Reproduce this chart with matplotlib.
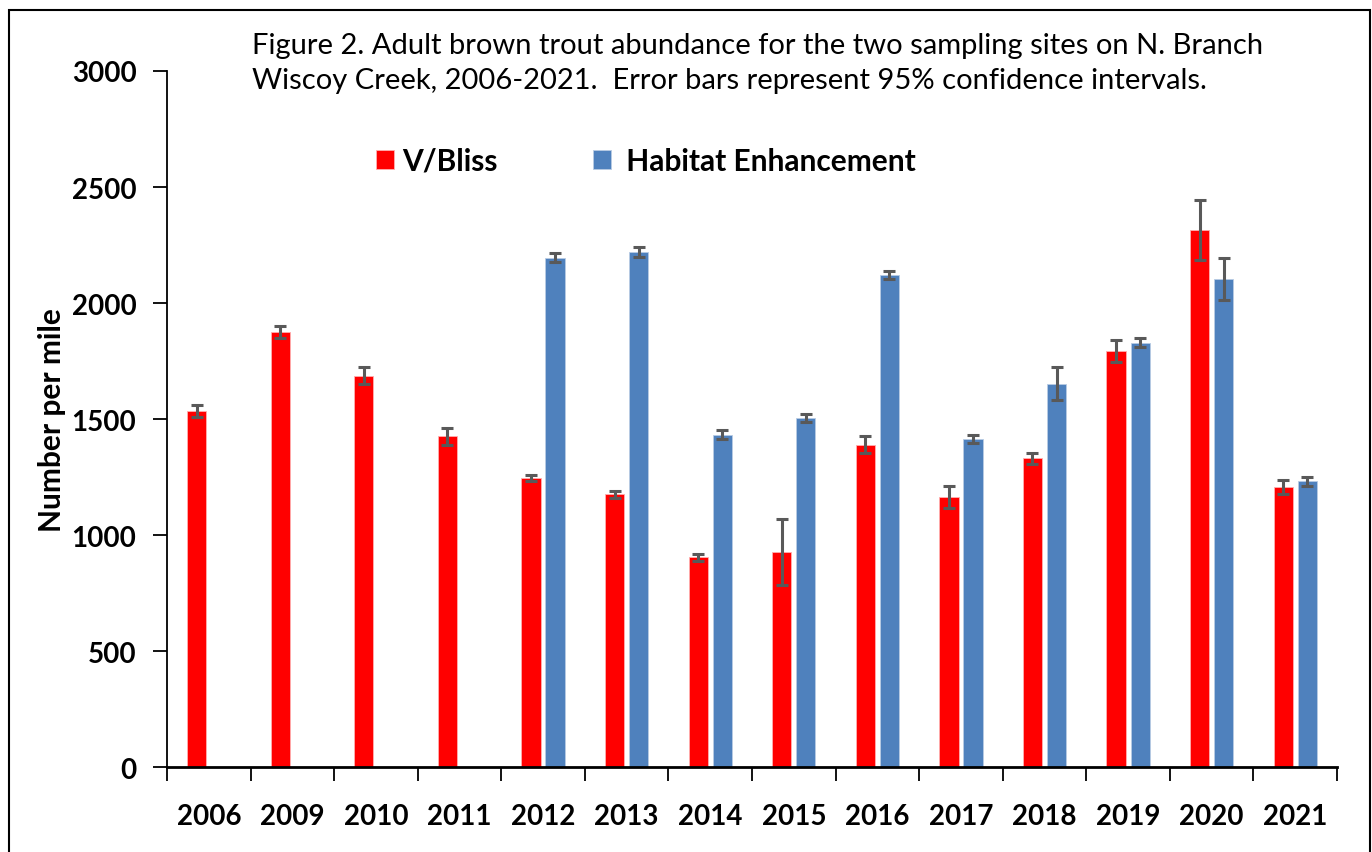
import numpy as np
import matplotlib.pyplot as plt
from matplotlib.patches import Rectangle

years = ['2006', '2009', '2010', '2011', '2012', '2013', '2014',
         '2015', '2016', '2017', '2018', '2019', '2020', '2021']
bliss = [1535, 1876, 1687, 1425, 1246, 1175, 904, 927, 1390, 1164, 1331, 1792, 2315, 1207]
bliss_ci = [27, 25, 36, 37, 14, 15, 14, 141, 37, 47, 24, 47, 131, 29]
habitat = [np.nan, np.nan, np.nan, np.nan, 2195, 2220, 1432, 1504, 2121, 1414, 1652, 1829, 2105, 1231]
habitat_ci = [0, 0, 0, 0, 20, 20, 20, 19, 18, 18, 71, 20, 91, 19]

plt.rcParams['font.family'] = ['Lato', 'DejaVu Sans']

fig = plt.figure(figsize=(13.72, 8.53), dpi=100)
ax = fig.add_axes([0.1217, 0.0996, 0.8528, 0.8160])

x = np.arange(len(years))
w = 0.23
off = 0.144
err_kw = dict(ecolor='#595959', elinewidth=2.2, capsize=4.5, capthick=2.2)
ax.bar(x - off, bliss, w, yerr=bliss_ci, color='#FF0000', edgecolor='#FFB0B0',
       linewidth=0.6, error_kw=err_kw, label='V/Bliss')
hab_err = [c if c > 0 else np.nan for c in habitat_ci]
ax.bar(x + off, habitat, w, yerr=hab_err, color='#4F81BD', edgecolor='#B8CCE4',
       linewidth=0.6, error_kw=err_kw, label=' Habitat Enhancement')

ax.set_xlim(-0.5, len(years) - 0.5)
ax.set_ylim(0, 3000)
ax.set_yticks(np.arange(0, 3001, 500))
ax.set_xticks(x)
ax.set_xticklabels(years)
ax.set_xticks(np.arange(-0.5, len(years), 1), minor=True)
ax.tick_params(axis='x', which='major', length=0, pad=26, labelsize=20)
ax.tick_params(axis='x', which='minor', length=10, width=1.3, direction='out')
ax.tick_params(axis='y', length=10, width=1.3, pad=12, labelsize=20)
for lab in ax.get_xticklabels() + ax.get_yticklabels():
    lab.set_fontweight('bold')

for s in ['top', 'right']:
    ax.spines[s].set_visible(False)
ax.spines['left'].set_linewidth(1.3)
ax.spines['bottom'].set_linewidth(2)

ax.set_ylabel('Number per mile', fontsize=21.5, fontweight='bold', labelpad=4)

fig.text(252 / 1372, 1 - 63.5 / 853, 'Figure 2. Adult brown trout abundance for the two sampling sites on N. Branch\n'
         'Wiscoy Creek, 2006-2021.  Error bars represent 95% confidence intervals.',
         fontsize=21, va='center', ha='left', linespacing=1.42)

ax.legend(loc='center left', bbox_to_anchor=(361 / 1372, 1 - 162 / 853),
          bbox_transform=fig.transFigure, ncol=2, frameon=False, borderpad=0,
          prop={'size': 21.5, 'weight': 'bold'}, handlelength=0.62, handleheight=0.62,
          handletextpad=0.25, columnspacing=3.2)

fig.patches.append(Rectangle((9 / 1372, -0.05), 1361 / 1372, 1.05 - 11 / 853,
                             transform=fig.transFigure, fill=False, edgecolor='black',
                             linewidth=1.5))

fig.savefig('out.png', dpi=100)
